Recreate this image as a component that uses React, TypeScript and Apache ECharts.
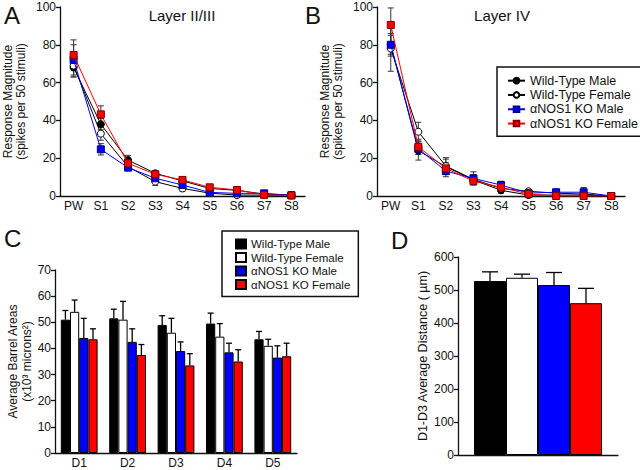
import React, { useEffect, useRef } from "react";
import * as echarts from "echarts";

const FONT = "'Liberation Sans', Arial, sans-serif";

const stimCats = ["PW", "S1", "S2", "S3", "S4", "S5", "S6", "S7", "S8"];
const groupNames = ["Wild-Type Male", "Wild-Type Female", "\u03b1NOS1 KO Male", "\u03b1NOS1 KO Female"];

// Panel A: Layer II/III (mean, SEM)
const l23WTM = [68, 38, 19, 12, 8, 4, 3, 1, 0.5];
const l23WTF = [69, 33, 15.5, 7.6, 4, 1.5, 0.5, 0.5, 0.3];
const l23KOM = [72, 24.7, 15, 9.4, 5.8, 1.9, 1.4, 1.4, 0.4];
const l23KOF = [74.6, 43.2, 17.3, 11.5, 8.5, 4.6, 3.2, 0.6, 0.3];
const l23WTMe = [5, 3, 2.5, 1.5, 1.5, 0.8, 0.8, 0.5, 0.3];
const l23WTFe = [6, 3.5, 2, 2, 1.5, 0.8, 0.5, 0.5, 0.3];
const l23KOMe = [8, 3, 1.5, 1.5, 1, 0.8, 0.5, 0.5, 0.3];
const l23KOFe = [8, 4.5, 2.5, 1.5, 1.5, 1, 0.8, 0.5, 0.3];

// Panel B: Layer IV (mean, SEM)
const l4WTM = [80, 24, 15.5, 8.5, 3, 0.5, 0.5, 0.5, 0];
const l4WTF = [78, 34, 15.8, 8.8, 4, 2.5, 1.5, 1, 0];
const l4KOM = [80, 25, 13.2, 9.3, 5.8, 1.5, 2, 2, 0];
const l4KOF = [90.5, 26, 14.6, 7.9, 4.6, 1, 0, 0, 0];
const l4WTMe = [6, 5, 4, 2, 1, 0.5, 0.5, 0.5, 0];
const l4WTFe = [12, 5, 4.5, 2.5, 2.5, 1, 1, 1, 0];
const l4KOMe = [5, 3, 3, 3.5, 2, 1, 1, 2.5, 0];
const l4KOFe = [9, 4, 3, 2, 2, 0.8, 0.5, 0.5, 0];

// Panel C: barrel areas
const barrelCats = ["D1", "D2", "D3", "D4", "D5"];
const areaWTM = [51, 51.5, 49, 49.5, 43.5];
const areaWTF = [54, 51, 46, 44.5, 41];
const areaKOM = [44, 42.5, 39, 38.5, 36.5];
const areaKOF = [43.5, 37.5, 33.5, 35, 37];
const areaWTMe = [3.5, 3.5, 3.5, 4, 3];
const areaWTFe = [4.5, 7, 5.5, 5, 2.5];
const areaKOMe = [7.5, 5, 3.5, 3.5, 4.5];
const areaKOFe = [4, 4, 4.5, 4.5, 5];

// Panel D: D1-D3 distance
const distVals = [527, 537, 515, 460];
const distErr = [28, 11, 38, 45];

const colors = ["#000000", "#ffffff", "#0000ff", "#ff0000"];
const lineColors = ["#000000", "#000000", "#0000ff", "#ff0000"];
const symbols = ["circle", "circle", "rect", "rect"];
const borderColors = ["#000000", "#000000", "#00008b", "#7a0000"];

const C_GAP = 0.24;
const D_GAP = 0.2;

export default function App() {
  const ref = useRef<HTMLDivElement>(null);
  useEffect(() => {
    if (!ref.current) return;
    const chart = echarts.init(ref.current, null, { renderer: "svg" });

    const axisLine = { lineStyle: { color: "#111", width: 1.3 } };
    const axisTick = { length: 4, lineStyle: { color: "#111", width: 1.3 } };
    const axisLabel = { color: "#111", fontSize: 12, fontFamily: FONT, margin: 4 };

    const lineErr = (xi: number, yi: number, vals: number[], errs: number[]) => ({
      type: "custom",
      xAxisIndex: xi,
      yAxisIndex: yi,
      z: 1,
      silent: true,
      data: vals.map((v, i) => [i, v, errs[i]]),
      encode: { x: 0, y: 1 },
      renderItem: (params: any, api: any) => {
        const x = api.value(0);
        const v = api.value(1);
        const e = api.value(2);
        const top = api.coord([x, v + e]);
        const bot = api.coord([x, Math.max(0, v - e)]);
        const hw = 3;
        const st = { stroke: "#333", lineWidth: 1 };
        return {
          type: "group",
          children: [
            { type: "line", shape: { x1: top[0], y1: top[1], x2: bot[0], y2: bot[1] }, style: st },
            { type: "line", shape: { x1: top[0] - hw, y1: top[1], x2: top[0] + hw, y2: top[1] }, style: st },
            { type: "line", shape: { x1: bot[0] - hw, y1: bot[1], x2: bot[0] + hw, y2: bot[1] }, style: st },
          ],
        };
      },
    });

    const lineSeries = (xi: number, yi: number, k: number, vals: number[]) => ({
      type: "line",
      name: groupNames[k],
      xAxisIndex: xi,
      yAxisIndex: yi,
      data: vals,
      symbol: symbols[k],
      symbolSize: 7,
      showSymbol: true,
      z: 3 + k,
      lineStyle: { color: lineColors[k], width: 1 },
      itemStyle: { color: k === 1 ? "#ffffff" : colors[k], borderColor: borderColors[k], borderWidth: 1 },
    });

    const barErr = (xi: number, yi: number, k: number, vals: number[], errs: number[], gap: number, capW: number) => ({
      type: "custom",
      xAxisIndex: xi,
      yAxisIndex: yi,
      z: 5,
      silent: true,
      data: vals.map((v, i) => [i, v, errs[i]]),
      encode: { x: 0, y: 1 },
      renderItem: (params: any, api: any) => {
        const x = api.value(0);
        const v = api.value(1);
        const e = api.value(2);
        const base = api.coord([x, v]);
        const top = api.coord([x, v + e]);
        const band = api.size([1, 0])[0];
        const bw = (band * (1 - gap)) / 4;
        const cx = base[0] + (k - 1.5) * bw;
        const st = { stroke: "#000", lineWidth: 1.3 };
        return {
          type: "group",
          children: [
            { type: "line", shape: { x1: cx, y1: base[1], x2: cx, y2: top[1] }, style: st },
            { type: "line", shape: { x1: cx - capW / 2, y1: top[1], x2: cx + capW / 2, y2: top[1] }, style: st },
          ],
        };
      },
    });

    const barSeries = (xi: number, yi: number, k: number, vals: number[], gap: number) => ({
      type: "bar",
      name: "bar:" + groupNames[k],
      xAxisIndex: xi,
      yAxisIndex: yi,
      data: vals,
      barGap: "0%",
      barCategoryGap: Math.round(gap * 100) + "%",
      z: 2,
      itemStyle: { color: colors[k], borderColor: "#000", borderWidth: 1 },
    });

    const l23 = [l23WTM, l23WTF, l23KOM, l23KOF];
    const l23e = [l23WTMe, l23WTFe, l23KOMe, l23KOFe];
    const l4 = [l4WTM, l4WTF, l4KOM, l4KOF];
    const l4e = [l4WTMe, l4WTFe, l4KOMe, l4KOFe];
    const area = [areaWTM, areaWTF, areaKOM, areaKOF];
    const areaE = [areaWTMe, areaWTFe, areaKOMe, areaKOFe];

    const series: any[] = [];
    for (let k = 0; k < 4; k++) series.push(lineErr(0, 0, l23[k], l23e[k]));
    for (let k = 0; k < 4; k++) series.push(lineSeries(0, 0, k, l23[k]));
    for (let k = 0; k < 4; k++) series.push(lineErr(1, 1, l4[k], l4e[k]));
    for (let k = 0; k < 4; k++) series.push(lineSeries(1, 1, k, l4[k]));
    for (let k = 0; k < 4; k++) series.push(barSeries(2, 2, k, area[k], C_GAP));
    for (let k = 0; k < 4; k++) series.push(barErr(2, 2, k, area[k], areaE[k], C_GAP, 6));
    for (let k = 0; k < 4; k++) series.push(barSeries(3, 3, k, [distVals[k]], D_GAP));
    for (let k = 0; k < 4; k++) series.push(barErr(3, 3, k, [distVals[k]], [distErr[k]], D_GAP, 16));

    const letter = (t: string, left: number, top: number) => ({
      text: t,
      left,
      top,
      padding: 0,
      textStyle: { fontSize: 24, fontWeight: "normal", color: "#111", fontFamily: FONT },
    });

    const option: any = {
      animation: false,
      backgroundColor: "#ffffff",
      textStyle: { fontFamily: FONT },
      title: [
        letter("A", 4, 3),
        letter("B", 305, 3),
        letter("C", 4, 226),
        letter("D", 391, 228),
        {
          text: "Layer II/III",
          left: 182,
          top: 8,
          textAlign: "center",
          padding: 0,
          textStyle: { fontSize: 15, fontWeight: "normal", color: "#111", fontFamily: FONT },
        },
        {
          text: "Layer IV",
          left: 502,
          top: 8,
          textAlign: "center",
          padding: 0,
          textStyle: { fontSize: 15, fontWeight: "normal", color: "#111", fontFamily: FONT },
        },
      ],
      legend: [
        {
          data: groupNames,
          orient: "vertical",
          left: 497,
          top: 67,
          padding: [7, 6, 6, 10],
          borderColor: "#111",
          borderWidth: 1.5,
          itemWidth: 17,
          itemHeight: 7,
          itemGap: 1,
          selectedMode: false,
          textStyle: { fontSize: 12.5, color: "#111", fontFamily: FONT, lineHeight: 13.3 },
        },
        {
          data: groupNames.map((n) => "bar:" + n),
          formatter: (n: string) => n.slice(4),
          orient: "vertical",
          left: 222,
          top: 231,
          padding: [7, 8, 6, 13],
          borderColor: "#111",
          borderWidth: 1.5,
          itemWidth: 10,
          itemHeight: 9,
          itemGap: 1.5,
          icon: "rect",
          selectedMode: false,
          textStyle: { fontSize: 11.5, color: "#111", fontFamily: FONT, lineHeight: 12 },
        },
      ],
      grid: [
        { left: 58, right: 335, top: 7, bottom: 274 },
        { left: 377, right: 15, top: 7, bottom: 274 },
        { left: 55, right: 343, top: 270, bottom: 17 },
        { left: 458, right: 22, top: 257, bottom: 15 },
      ],
      xAxis: [
        { gridIndex: 0, type: "category", data: stimCats, axisLine, axisTick: { ...axisTick, alignWithLabel: true }, axisLabel },
        { gridIndex: 1, type: "category", data: stimCats, axisLine, axisTick: { ...axisTick, alignWithLabel: true }, axisLabel },
        { gridIndex: 2, type: "category", data: barrelCats, axisLine, axisTick: { ...axisTick, alignWithLabel: true }, axisLabel },
        { gridIndex: 3, type: "category", data: [""], axisLine, axisTick: { show: false }, axisLabel: { show: false } },
      ],
      yAxis: [
        {
          gridIndex: 0, type: "value", min: 0, max: 100, interval: 20,
          axisLine: { show: true, ...axisLine }, axisTick: { show: true, ...axisTick }, axisLabel, splitLine: { show: false },
          name: "Response Magnitude\n(spikes per 50 stimuli)", nameLocation: "middle", nameGap: 33,
          nameTextStyle: { fontSize: 12, color: "#111", fontFamily: FONT, lineHeight: 13 },
        },
        {
          gridIndex: 1, type: "value", min: 0, max: 100, interval: 20,
          axisLine: { show: true, ...axisLine }, axisTick: { show: true, ...axisTick }, axisLabel, splitLine: { show: false },
          name: "Response Magnitude\n(spikes per 50 stimuli)", nameLocation: "middle", nameGap: 33,
          nameTextStyle: { fontSize: 12, color: "#111", fontFamily: FONT, lineHeight: 13 },
        },
        {
          gridIndex: 2, type: "value", min: 0, max: 70, interval: 10,
          axisLine: { show: true, ...axisLine }, axisTick: { show: true, ...axisTick }, axisLabel, splitLine: { show: false },
          name: "Average Barrel Areas\n(x10\u00b3 microns\u00b2)", nameLocation: "middle", nameGap: 21,
          nameTextStyle: { fontSize: 12, color: "#111", fontFamily: FONT, lineHeight: 14 },
        },
        {
          gridIndex: 3, type: "value", min: 0, max: 600, interval: 100,
          axisLine: { show: true, ...axisLine }, axisTick: { show: true, ...axisTick }, axisLabel, splitLine: { show: false },
          name: "D1-D3 Average Distance ( \u00b5m)", nameLocation: "middle", nameGap: 29,
          nameTextStyle: { fontSize: 12.5, color: "#111", fontFamily: FONT },
        },
      ],
      series,
    };
    chart.setOption(option);
    return () => chart.dispose();
  }, []);

  return (
    <div
      ref={ref}
      style={{ position: "fixed", left: 0, top: 0, width: 640, height: 470, background: "#fff" }}
    />
  );
}
